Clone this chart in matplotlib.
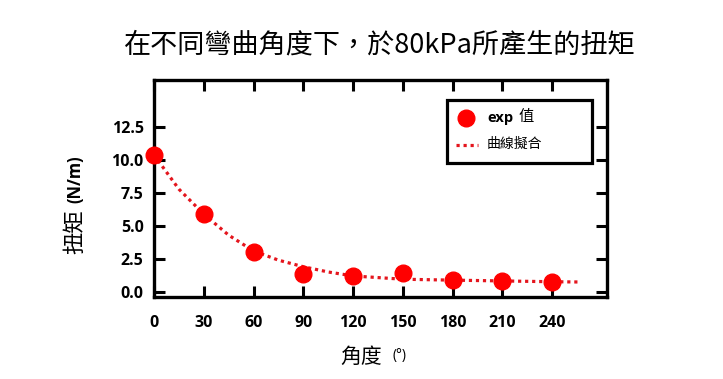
import matplotlib
matplotlib.use('Agg')
import matplotlib.pyplot as plt
from matplotlib.patches import Rectangle

# experimental torque values (N/m) at each bending angle
angles = [0, 30, 60, 90, 120, 150, 180, 210, 240]
torque = [10.4, 5.9, 3.0, 1.35, 1.2, 1.45, 0.9, 0.8, 0.72]

# fitted curve
fit_x = [0, 15, 30, 45, 60, 75, 90, 105, 120, 150, 180, 210, 240, 256]
fit_y = [10.4, 7.8, 5.9, 4.3, 3.1, 2.4, 1.9, 1.5, 1.2, 0.95, 0.88, 0.82, 0.76, 0.74]

xticks = [0, 30, 60, 90, 120, 150, 180, 210, 240]
yticks = [0.0, 2.5, 5.0, 7.5, 10.0, 12.5]

cjk = ['Noto Sans CJK TC', 'DejaVu Sans']
tickfont = 'Open Sans'
red = '#ff0000'
fitred = '#e4151d'
dots = (0, (1, 1.2))

fig = plt.figure(figsize=(7.23, 3.79), dpi=100)
ax = fig.add_axes([0.213, 0.2164, 0.6266, 0.5726])

ax.plot(fit_x, fit_y, color=fitred, linestyle=dots, linewidth=2.3, zorder=2)
ax.plot(angles, torque, 'o', color=red, markersize=12, zorder=3, clip_on=False)

ax.set_xlim(0, 273)
ax.set_ylim(-0.4, 16.1)
ax.set_xticks(xticks)
ax.set_yticks(yticks)
ax.set_xticklabels([str(v) for v in xticks], fontfamily=tickfont, fontweight='bold', fontsize=11.5)
ax.set_yticklabels(['%.1f' % v for v in yticks], fontfamily=tickfont, fontweight='bold', fontsize=11.5)
ax.tick_params(direction='in', length=8, width=2.2, top=True, right=True, pad=7.5)
ax.tick_params(axis='x', pad=13)
for s in ax.spines.values():
    s.set_linewidth(2.4)

# legend box drawn by hand (mixed weight label, wide frame)
ax.add_patch(Rectangle((0.647, 0.6175), 0.32, 0.29, transform=ax.transAxes,
                       facecolor='white', edgecolor='black', linewidth=2.3, zorder=4))
ax.plot([0.689], [0.825], 'o', color=red, markersize=12, transform=ax.transAxes, zorder=5)
ax.plot([0.667, 0.715], [0.70, 0.70], color=fitred, linestyle=dots, linewidth=2.3,
        transform=ax.transAxes, zorder=5)
ax.text(0.735, 0.825, 'exp', transform=ax.transAxes, ha='left', va='center',
        fontsize=10.5, fontweight='bold', family=tickfont, zorder=5)
ax.text(0.805, 0.830, '值', transform=ax.transAxes, ha='left', va='center',
        fontsize=11, family=cjk, zorder=5)
ax.text(0.735, 0.705, '曲線擬合', transform=ax.transAxes, ha='left', va='center',
        fontsize=10, family=cjk, zorder=5)

fig.text(0.5256, 0.881, '在不同彎曲角度下，於80kPa所產生的扭矩', ha='center', va='center',
         fontsize=19.5, family=cjk)

fig.text(0.104, 0.388, '扭矩', rotation=90, ha='center', va='center', fontsize=16, family=cjk)
fig.text(0.104, 0.528, '(N/m)', rotation=90, ha='center', va='center', fontsize=12,
         fontweight='bold', family=tickfont)

fig.text(0.499, 0.058, '角度', ha='center', va='center', fontsize=15, family=cjk)
fig.text(0.553, 0.062, '(°)', ha='center', va='center', fontsize=10, family=tickfont)

fig.savefig('out.png', dpi=100)
